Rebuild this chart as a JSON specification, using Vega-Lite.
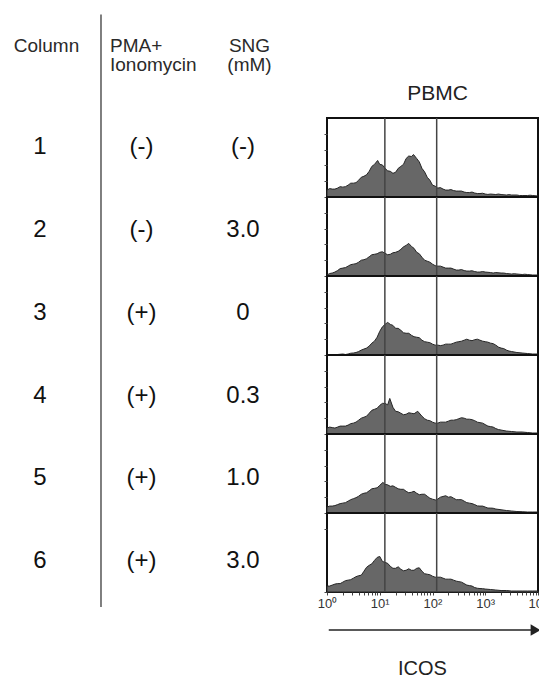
{
  "$schema": "https://vega.github.io/schema/vega-lite/v6.json",
  "autosize": {"type": "pad"},
  "padding": {"left": 0, "top": 13, "right": 0, "bottom": 0},
  "background": "white",
  "config": {
    "font": "Liberation Sans",
    "view": {"stroke": "#111111", "strokeWidth": 2}
  },
  "bounds": "flush",
  "spacing": 44,
  "datasets": {
    "table": [
      {"row": 1, "header": "Column", "value": "1"},
      {"row": 1, "header": "PMA+ Ionomycin", "value": "(-)"},
      {"row": 1, "header": "SNG (mM)", "value": "(-)"},
      {"row": 2, "header": "Column", "value": "2"},
      {"row": 2, "header": "PMA+ Ionomycin", "value": "(-)"},
      {"row": 2, "header": "SNG (mM)", "value": "3.0"},
      {"row": 3, "header": "Column", "value": "3"},
      {"row": 3, "header": "PMA+ Ionomycin", "value": "(+)"},
      {"row": 3, "header": "SNG (mM)", "value": "0"},
      {"row": 4, "header": "Column", "value": "4"},
      {"row": 4, "header": "PMA+ Ionomycin", "value": "(+)"},
      {"row": 4, "header": "SNG (mM)", "value": "0.3"},
      {"row": 5, "header": "Column", "value": "5"},
      {"row": 5, "header": "PMA+ Ionomycin", "value": "(+)"},
      {"row": 5, "header": "SNG (mM)", "value": "1.0"},
      {"row": 6, "header": "Column", "value": "6"},
      {"row": 6, "header": "PMA+ Ionomycin", "value": "(+)"},
      {"row": 6, "header": "SNG (mM)", "value": "3.0"}
    ],
    "hist": [
      {"row": 1, "gate": 12.5}, {"row": 1, "gate": 120},
      {"row": 2, "gate": 12.5}, {"row": 2, "gate": 120},
      {"row": 3, "gate": 12.5}, {"row": 3, "gate": 120},
      {"row": 4, "gate": 12.5}, {"row": 4, "gate": 120},
      {"row": 5, "gate": 12.5}, {"row": 5, "gate": 120},
      {"row": 6, "gate": 12.5}, {"row": 6, "gate": 120},

      {"row": 1, "icos": 1, "count": 7}, {"row": 1, "icos": 1.259, "count": 8}, {"row": 1, "icos": 1.585, "count": 9}, {"row": 1, "icos": 1.995, "count": 10},
      {"row": 1, "icos": 2.512, "count": 12}, {"row": 1, "icos": 3.162, "count": 14}, {"row": 1, "icos": 3.981, "count": 17}, {"row": 1, "icos": 5.012, "count": 21},
      {"row": 1, "icos": 6.31, "count": 26}, {"row": 1, "icos": 7.943, "count": 33}, {"row": 1, "icos": 9.12, "count": 37}, {"row": 1, "icos": 10, "count": 33},
      {"row": 1, "icos": 12.59, "count": 29}, {"row": 1, "icos": 15.85, "count": 26}, {"row": 1, "icos": 17.78, "count": 24}, {"row": 1, "icos": 19.95, "count": 25},
      {"row": 1, "icos": 25.12, "count": 31}, {"row": 1, "icos": 31.62, "count": 39}, {"row": 1, "icos": 39.81, "count": 41}, {"row": 1, "icos": 43.65, "count": 43},
      {"row": 1, "icos": 50.12, "count": 39}, {"row": 1, "icos": 63.1, "count": 29}, {"row": 1, "icos": 79.43, "count": 20}, {"row": 1, "icos": 100, "count": 12},
      {"row": 1, "icos": 125.9, "count": 9}, {"row": 1, "icos": 158.5, "count": 8}, {"row": 1, "icos": 199.5, "count": 7}, {"row": 1, "icos": 251.2, "count": 6.5},
      {"row": 1, "icos": 316.2, "count": 6}, {"row": 1, "icos": 398.1, "count": 5}, {"row": 1, "icos": 501.2, "count": 4.5}, {"row": 1, "icos": 631, "count": 4},
      {"row": 1, "icos": 794.3, "count": 3.5}, {"row": 1, "icos": 1000, "count": 3}, {"row": 1, "icos": 1259, "count": 3}, {"row": 1, "icos": 1585, "count": 2.5},
      {"row": 1, "icos": 1995, "count": 2.5}, {"row": 1, "icos": 2512, "count": 2}, {"row": 1, "icos": 3162, "count": 2}, {"row": 1, "icos": 3981, "count": 2},
      {"row": 1, "icos": 5012, "count": 1.5}, {"row": 1, "icos": 6310, "count": 1.5}, {"row": 1, "icos": 7943, "count": 1.5}, {"row": 1, "icos": 10000, "count": 1},
      {"row": 1, "icos": 1.122, "count": 8.5}, {"row": 1, "icos": 1.413, "count": 8}, {"row": 1, "icos": 1.778, "count": 10.5}, {"row": 1, "icos": 2.239, "count": 10.5},
      {"row": 1, "icos": 2.818, "count": 14}, {"row": 1, "icos": 3.548, "count": 14.5}, {"row": 1, "icos": 4.467, "count": 20}, {"row": 1, "icos": 5.623, "count": 22.5},
      {"row": 1, "icos": 7.079, "count": 31}, {"row": 1, "icos": 11.22, "count": 32.5}, {"row": 1, "icos": 14.13, "count": 26.5}, {"row": 1, "icos": 22.39, "count": 29},
      {"row": 1, "icos": 28.18, "count": 33}, {"row": 1, "icos": 35.48, "count": 41.5}, {"row": 1, "icos": 56.23, "count": 35.5}, {"row": 1, "icos": 70.79, "count": 25.5},
      {"row": 1, "icos": 89.13, "count": 17}, {"row": 1, "icos": 112.2, "count": 11}, {"row": 1, "icos": 141.3, "count": 9.5}, {"row": 1, "icos": 177.8, "count": 7},
      {"row": 1, "icos": 223.9, "count": 7.5}, {"row": 1, "icos": 281.8, "count": 6}, {"row": 1, "icos": 354.8, "count": 6}, {"row": 1, "icos": 446.7, "count": 4.5},
      {"row": 1, "icos": 562.3, "count": 5}, {"row": 1, "icos": 707.9, "count": 3.5}, {"row": 1, "icos": 891.3, "count": 3.8}, {"row": 1, "icos": 1122, "count": 2.6},
      {"row": 1, "icos": 1778, "count": 3}, {"row": 1, "icos": 2818, "count": 2.4}, {"row": 1, "icos": 4467, "count": 1.5}, {"row": 1, "icos": 7079, "count": 1.8},

      {"row": 2, "icos": 1, "count": 1}, {"row": 2, "icos": 1.259, "count": 3}, {"row": 2, "icos": 1.585, "count": 5.5}, {"row": 2, "icos": 1.995, "count": 8},
      {"row": 2, "icos": 2.512, "count": 10}, {"row": 2, "icos": 3.162, "count": 12}, {"row": 2, "icos": 3.981, "count": 14}, {"row": 2, "icos": 5.012, "count": 16.5},
      {"row": 2, "icos": 6.31, "count": 19.5}, {"row": 2, "icos": 7.943, "count": 22}, {"row": 2, "icos": 10, "count": 24}, {"row": 2, "icos": 12.59, "count": 23},
      {"row": 2, "icos": 15.85, "count": 22}, {"row": 2, "icos": 19.95, "count": 24}, {"row": 2, "icos": 25.12, "count": 27}, {"row": 2, "icos": 31.62, "count": 31},
      {"row": 2, "icos": 35.48, "count": 33}, {"row": 2, "icos": 39.81, "count": 30}, {"row": 2, "icos": 50.12, "count": 24}, {"row": 2, "icos": 63.1, "count": 19},
      {"row": 2, "icos": 79.43, "count": 15}, {"row": 2, "icos": 100, "count": 12}, {"row": 2, "icos": 125.9, "count": 10}, {"row": 2, "icos": 158.5, "count": 9},
      {"row": 2, "icos": 199.5, "count": 8}, {"row": 2, "icos": 251.2, "count": 7}, {"row": 2, "icos": 316.2, "count": 6}, {"row": 2, "icos": 398.1, "count": 5.5},
      {"row": 2, "icos": 501.2, "count": 5}, {"row": 2, "icos": 631, "count": 4.5}, {"row": 2, "icos": 794.3, "count": 4}, {"row": 2, "icos": 1000, "count": 4},
      {"row": 2, "icos": 1259, "count": 3.5}, {"row": 2, "icos": 1585, "count": 3.5}, {"row": 2, "icos": 1995, "count": 3}, {"row": 2, "icos": 2512, "count": 2.5},
      {"row": 2, "icos": 3162, "count": 2}, {"row": 2, "icos": 3981, "count": 2}, {"row": 2, "icos": 5012, "count": 1.5}, {"row": 2, "icos": 6310, "count": 1.5},
      {"row": 2, "icos": 7943, "count": 1}, {"row": 2, "icos": 10000, "count": 1},
      {"row": 2, "icos": 1.122, "count": 2.5}, {"row": 2, "icos": 1.413, "count": 4}, {"row": 2, "icos": 1.778, "count": 7.5}, {"row": 2, "icos": 2.239, "count": 8.5},
      {"row": 2, "icos": 2.818, "count": 11.5}, {"row": 2, "icos": 3.548, "count": 12.5}, {"row": 2, "icos": 4.467, "count": 16}, {"row": 2, "icos": 5.623, "count": 17.5},
      {"row": 2, "icos": 7.079, "count": 21.5}, {"row": 2, "icos": 8.913, "count": 22.5}, {"row": 2, "icos": 11.22, "count": 24.5}, {"row": 2, "icos": 14.13, "count": 21.5},
      {"row": 2, "icos": 17.78, "count": 23.5}, {"row": 2, "icos": 22.39, "count": 25}, {"row": 2, "icos": 28.18, "count": 29.5}, {"row": 2, "icos": 44.67, "count": 28},
      {"row": 2, "icos": 56.23, "count": 22.5}, {"row": 2, "icos": 70.79, "count": 16}, {"row": 2, "icos": 89.13, "count": 14}, {"row": 2, "icos": 112.2, "count": 10.5},
      {"row": 2, "icos": 141.3, "count": 10}, {"row": 2, "icos": 177.8, "count": 8}, {"row": 2, "icos": 223.9, "count": 8}, {"row": 2, "icos": 281.8, "count": 6},
      {"row": 2, "icos": 354.8, "count": 6.5}, {"row": 2, "icos": 446.7, "count": 5}, {"row": 2, "icos": 562.3, "count": 5.3}, {"row": 2, "icos": 707.9, "count": 4},
      {"row": 2, "icos": 891.3, "count": 4.5}, {"row": 2, "icos": 1413, "count": 3}, {"row": 2, "icos": 2239, "count": 3}, {"row": 2, "icos": 3548, "count": 2.3},
      {"row": 2, "icos": 5623, "count": 1.8},

      {"row": 3, "icos": 1, "count": 0.5}, {"row": 3, "icos": 1.259, "count": 0.5}, {"row": 3, "icos": 1.585, "count": 0.5}, {"row": 3, "icos": 1.995, "count": 1},
      {"row": 3, "icos": 2.512, "count": 1}, {"row": 3, "icos": 3.162, "count": 2}, {"row": 3, "icos": 3.981, "count": 3.5}, {"row": 3, "icos": 5.012, "count": 6},
      {"row": 3, "icos": 6.31, "count": 9}, {"row": 3, "icos": 7.943, "count": 14}, {"row": 3, "icos": 10, "count": 24}, {"row": 3, "icos": 12.59, "count": 31},
      {"row": 3, "icos": 14.13, "count": 33}, {"row": 3, "icos": 15.85, "count": 31}, {"row": 3, "icos": 19.95, "count": 27}, {"row": 3, "icos": 25.12, "count": 25},
      {"row": 3, "icos": 31.62, "count": 22}, {"row": 3, "icos": 39.81, "count": 20}, {"row": 3, "icos": 50.12, "count": 18}, {"row": 3, "icos": 63.1, "count": 15},
      {"row": 3, "icos": 79.43, "count": 13}, {"row": 3, "icos": 100, "count": 11}, {"row": 3, "icos": 125.9, "count": 10}, {"row": 3, "icos": 158.5, "count": 10},
      {"row": 3, "icos": 199.5, "count": 11}, {"row": 3, "icos": 251.2, "count": 12}, {"row": 3, "icos": 316.2, "count": 13.5}, {"row": 3, "icos": 398.1, "count": 15},
      {"row": 3, "icos": 501.2, "count": 15}, {"row": 3, "icos": 631, "count": 15.5}, {"row": 3, "icos": 794.3, "count": 15}, {"row": 3, "icos": 1000, "count": 13.5},
      {"row": 3, "icos": 1259, "count": 12}, {"row": 3, "icos": 1585, "count": 10}, {"row": 3, "icos": 1995, "count": 7}, {"row": 3, "icos": 2512, "count": 5},
      {"row": 3, "icos": 3162, "count": 3.5}, {"row": 3, "icos": 3981, "count": 2.5}, {"row": 3, "icos": 5012, "count": 2}, {"row": 3, "icos": 6310, "count": 1.5},
      {"row": 3, "icos": 7943, "count": 1}, {"row": 3, "icos": 10000, "count": 1},
      {"row": 3, "icos": 2.239, "count": 0.5}, {"row": 3, "icos": 2.818, "count": 1.8}, {"row": 3, "icos": 3.548, "count": 2.5}, {"row": 3, "icos": 4.467, "count": 5},
      {"row": 3, "icos": 5.623, "count": 7}, {"row": 3, "icos": 7.079, "count": 12}, {"row": 3, "icos": 8.913, "count": 18}, {"row": 3, "icos": 11.22, "count": 28.5},
      {"row": 3, "icos": 17.78, "count": 30}, {"row": 3, "icos": 22.39, "count": 27}, {"row": 3, "icos": 28.18, "count": 22.5}, {"row": 3, "icos": 35.48, "count": 22},
      {"row": 3, "icos": 44.67, "count": 18.5}, {"row": 3, "icos": 56.23, "count": 17.5}, {"row": 3, "icos": 70.79, "count": 13.5}, {"row": 3, "icos": 89.13, "count": 12.5},
      {"row": 3, "icos": 112.2, "count": 10}, {"row": 3, "icos": 141.3, "count": 9.5}, {"row": 3, "icos": 177.8, "count": 11}, {"row": 3, "icos": 223.9, "count": 11},
      {"row": 3, "icos": 281.8, "count": 13}, {"row": 3, "icos": 354.8, "count": 14}, {"row": 3, "icos": 446.7, "count": 16}, {"row": 3, "icos": 562.3, "count": 14.5},
      {"row": 3, "icos": 707.9, "count": 16}, {"row": 3, "icos": 891.3, "count": 14}, {"row": 3, "icos": 1122, "count": 13}, {"row": 3, "icos": 1413, "count": 11.5},
      {"row": 3, "icos": 1778, "count": 8}, {"row": 3, "icos": 2239, "count": 6.5}, {"row": 3, "icos": 2818, "count": 4},

      {"row": 4, "icos": 1, "count": 6}, {"row": 4, "icos": 1.259, "count": 6.5}, {"row": 4, "icos": 1.585, "count": 7}, {"row": 4, "icos": 1.995, "count": 8},
      {"row": 4, "icos": 2.512, "count": 9}, {"row": 4, "icos": 3.162, "count": 11}, {"row": 4, "icos": 3.981, "count": 14}, {"row": 4, "icos": 5.012, "count": 17},
      {"row": 4, "icos": 6.31, "count": 21}, {"row": 4, "icos": 7.943, "count": 25}, {"row": 4, "icos": 10, "count": 29}, {"row": 4, "icos": 12.59, "count": 31},
      {"row": 4, "icos": 15.49, "count": 36}, {"row": 4, "icos": 17.78, "count": 27}, {"row": 4, "icos": 19.95, "count": 23}, {"row": 4, "icos": 25.12, "count": 21},
      {"row": 4, "icos": 31.62, "count": 20}, {"row": 4, "icos": 39.81, "count": 21}, {"row": 4, "icos": 52.48, "count": 23}, {"row": 4, "icos": 63.1, "count": 18},
      {"row": 4, "icos": 79.43, "count": 14}, {"row": 4, "icos": 100, "count": 12}, {"row": 4, "icos": 125.9, "count": 11}, {"row": 4, "icos": 158.5, "count": 12},
      {"row": 4, "icos": 199.5, "count": 13}, {"row": 4, "icos": 251.2, "count": 14}, {"row": 4, "icos": 316.2, "count": 15.5}, {"row": 4, "icos": 398.1, "count": 16},
      {"row": 4, "icos": 501.2, "count": 15}, {"row": 4, "icos": 631, "count": 13.5}, {"row": 4, "icos": 794.3, "count": 11.5}, {"row": 4, "icos": 1000, "count": 9.5},
      {"row": 4, "icos": 1259, "count": 7.5}, {"row": 4, "icos": 1585, "count": 5.5}, {"row": 4, "icos": 1995, "count": 4}, {"row": 4, "icos": 2512, "count": 3},
      {"row": 4, "icos": 3162, "count": 2.5}, {"row": 4, "icos": 3981, "count": 2}, {"row": 4, "icos": 5012, "count": 2}, {"row": 4, "icos": 6310, "count": 1.5},
      {"row": 4, "icos": 7943, "count": 1}, {"row": 4, "icos": 10000, "count": 1},
      {"row": 4, "icos": 1.122, "count": 7}, {"row": 4, "icos": 1.413, "count": 6}, {"row": 4, "icos": 1.778, "count": 8}, {"row": 4, "icos": 2.239, "count": 8},
      {"row": 4, "icos": 2.818, "count": 10.5}, {"row": 4, "icos": 3.548, "count": 12}, {"row": 4, "icos": 4.467, "count": 16}, {"row": 4, "icos": 5.623, "count": 18},
      {"row": 4, "icos": 7.079, "count": 24}, {"row": 4, "icos": 8.913, "count": 26}, {"row": 4, "icos": 11.22, "count": 31}, {"row": 4, "icos": 14.13, "count": 29.5},
      {"row": 4, "icos": 22.39, "count": 22.5}, {"row": 4, "icos": 28.18, "count": 19.5}, {"row": 4, "icos": 35.48, "count": 21.5}, {"row": 4, "icos": 44.67, "count": 20.5},
      {"row": 4, "icos": 70.79, "count": 15.5}, {"row": 4, "icos": 89.13, "count": 13.5}, {"row": 4, "icos": 112.2, "count": 11}, {"row": 4, "icos": 141.3, "count": 12},
      {"row": 4, "icos": 177.8, "count": 12}, {"row": 4, "icos": 223.9, "count": 14}, {"row": 4, "icos": 281.8, "count": 14.5}, {"row": 4, "icos": 354.8, "count": 16.5},
      {"row": 4, "icos": 446.7, "count": 15}, {"row": 4, "icos": 562.3, "count": 14.5}, {"row": 4, "icos": 707.9, "count": 12}, {"row": 4, "icos": 891.3, "count": 11},
      {"row": 4, "icos": 1122, "count": 8}, {"row": 4, "icos": 1413, "count": 7}, {"row": 4, "icos": 1778, "count": 4.5},

      {"row": 5, "icos": 1, "count": 6}, {"row": 5, "icos": 1.259, "count": 7}, {"row": 5, "icos": 1.585, "count": 8.5}, {"row": 5, "icos": 1.995, "count": 10},
      {"row": 5, "icos": 2.512, "count": 12}, {"row": 5, "icos": 3.162, "count": 14.5}, {"row": 5, "icos": 3.981, "count": 17}, {"row": 5, "icos": 5.012, "count": 20},
      {"row": 5, "icos": 6.31, "count": 22.5}, {"row": 5, "icos": 7.943, "count": 25}, {"row": 5, "icos": 10, "count": 28}, {"row": 5, "icos": 11.48, "count": 31},
      {"row": 5, "icos": 12.59, "count": 29}, {"row": 5, "icos": 15.85, "count": 27}, {"row": 5, "icos": 19.95, "count": 26}, {"row": 5, "icos": 25.12, "count": 24},
      {"row": 5, "icos": 31.62, "count": 22}, {"row": 5, "icos": 39.81, "count": 21}, {"row": 5, "icos": 50.12, "count": 20}, {"row": 5, "icos": 63.1, "count": 19},
      {"row": 5, "icos": 79.43, "count": 17}, {"row": 5, "icos": 100, "count": 14}, {"row": 5, "icos": 117.5, "count": 13}, {"row": 5, "icos": 141.3, "count": 16},
      {"row": 5, "icos": 177.8, "count": 17.5}, {"row": 5, "icos": 199.5, "count": 16}, {"row": 5, "icos": 251.2, "count": 15}, {"row": 5, "icos": 316.2, "count": 13.5},
      {"row": 5, "icos": 398.1, "count": 12}, {"row": 5, "icos": 501.2, "count": 10}, {"row": 5, "icos": 631, "count": 8.5}, {"row": 5, "icos": 794.3, "count": 7},
      {"row": 5, "icos": 1000, "count": 6}, {"row": 5, "icos": 1259, "count": 5}, {"row": 5, "icos": 1585, "count": 4}, {"row": 5, "icos": 1995, "count": 3.3},
      {"row": 5, "icos": 2512, "count": 2.5}, {"row": 5, "icos": 3162, "count": 2}, {"row": 5, "icos": 3981, "count": 1.5}, {"row": 5, "icos": 5012, "count": 1.3},
      {"row": 5, "icos": 6310, "count": 1}, {"row": 5, "icos": 7943, "count": 1}, {"row": 5, "icos": 10000, "count": 1},
      {"row": 5, "icos": 1.122, "count": 7}, {"row": 5, "icos": 1.413, "count": 7.5}, {"row": 5, "icos": 1.778, "count": 9.5}, {"row": 5, "icos": 2.239, "count": 10.5},
      {"row": 5, "icos": 2.818, "count": 13.5}, {"row": 5, "icos": 3.548, "count": 15.5}, {"row": 5, "icos": 4.467, "count": 19}, {"row": 5, "icos": 5.623, "count": 20.5},
      {"row": 5, "icos": 7.079, "count": 24.5}, {"row": 5, "icos": 8.913, "count": 25.5}, {"row": 5, "icos": 14.13, "count": 28.5}, {"row": 5, "icos": 17.78, "count": 27.5},
      {"row": 5, "icos": 22.39, "count": 24.5}, {"row": 5, "icos": 28.18, "count": 24}, {"row": 5, "icos": 35.48, "count": 20.5}, {"row": 5, "icos": 44.67, "count": 22},
      {"row": 5, "icos": 56.23, "count": 18.5}, {"row": 5, "icos": 70.79, "count": 19}, {"row": 5, "icos": 89.13, "count": 15}, {"row": 5, "icos": 223.9, "count": 16.5},
      {"row": 5, "icos": 281.8, "count": 13.5}, {"row": 5, "icos": 354.8, "count": 13.5}, {"row": 5, "icos": 446.7, "count": 10.5}, {"row": 5, "icos": 562.3, "count": 9.5},
      {"row": 5, "icos": 707.9, "count": 7.2}, {"row": 5, "icos": 891.3, "count": 7}, {"row": 5, "icos": 1122, "count": 5}, {"row": 5, "icos": 1413, "count": 4.8},

      {"row": 6, "icos": 1, "count": 6}, {"row": 6, "icos": 1.259, "count": 7}, {"row": 6, "icos": 1.585, "count": 8.5}, {"row": 6, "icos": 1.995, "count": 10},
      {"row": 6, "icos": 2.512, "count": 12}, {"row": 6, "icos": 3.162, "count": 14}, {"row": 6, "icos": 3.981, "count": 16.5}, {"row": 6, "icos": 5.012, "count": 21},
      {"row": 6, "icos": 6.31, "count": 27}, {"row": 6, "icos": 7.943, "count": 32}, {"row": 6, "icos": 10, "count": 36}, {"row": 6, "icos": 12.59, "count": 30},
      {"row": 6, "icos": 15.85, "count": 26}, {"row": 6, "icos": 19.95, "count": 24}, {"row": 6, "icos": 25.12, "count": 23}, {"row": 6, "icos": 31.62, "count": 22},
      {"row": 6, "icos": 39.81, "count": 22}, {"row": 6, "icos": 50.12, "count": 24}, {"row": 6, "icos": 63.1, "count": 21}, {"row": 6, "icos": 79.43, "count": 18},
      {"row": 6, "icos": 100, "count": 16}, {"row": 6, "icos": 125.9, "count": 15}, {"row": 6, "icos": 158.5, "count": 14}, {"row": 6, "icos": 199.5, "count": 13},
      {"row": 6, "icos": 251.2, "count": 12}, {"row": 6, "icos": 316.2, "count": 10.5}, {"row": 6, "icos": 398.1, "count": 8.5}, {"row": 6, "icos": 501.2, "count": 6.5},
      {"row": 6, "icos": 631, "count": 4.5}, {"row": 6, "icos": 794.3, "count": 3.5}, {"row": 6, "icos": 1000, "count": 3}, {"row": 6, "icos": 1259, "count": 2.5},
      {"row": 6, "icos": 1585, "count": 2}, {"row": 6, "icos": 1995, "count": 1.5}, {"row": 6, "icos": 2512, "count": 1.5}, {"row": 6, "icos": 3162, "count": 1},
      {"row": 6, "icos": 3981, "count": 1}, {"row": 6, "icos": 5012, "count": 1}, {"row": 6, "icos": 6310, "count": 1}, {"row": 6, "icos": 7943, "count": 1},
      {"row": 6, "icos": 10000, "count": 1},
      {"row": 6, "icos": 1.122, "count": 6}, {"row": 6, "icos": 1.413, "count": 8}, {"row": 6, "icos": 1.778, "count": 8.5}, {"row": 6, "icos": 2.239, "count": 11.5},
      {"row": 6, "icos": 2.818, "count": 12.5}, {"row": 6, "icos": 3.548, "count": 15.5}, {"row": 6, "icos": 4.467, "count": 17}, {"row": 6, "icos": 5.623, "count": 25},
      {"row": 6, "icos": 7.079, "count": 28.5}, {"row": 6, "icos": 8.913, "count": 35}, {"row": 6, "icos": 11.22, "count": 31}, {"row": 6, "icos": 14.13, "count": 29},
      {"row": 6, "icos": 17.78, "count": 24}, {"row": 6, "icos": 22.39, "count": 25.5}, {"row": 6, "icos": 28.18, "count": 21.5}, {"row": 6, "icos": 35.48, "count": 23.5},
      {"row": 6, "icos": 44.67, "count": 22}, {"row": 6, "icos": 56.23, "count": 24.5}, {"row": 6, "icos": 70.79, "count": 18.5}, {"row": 6, "icos": 89.13, "count": 17.5},
      {"row": 6, "icos": 112.2, "count": 15}, {"row": 6, "icos": 141.3, "count": 15}, {"row": 6, "icos": 177.8, "count": 13}, {"row": 6, "icos": 223.9, "count": 13},
      {"row": 6, "icos": 281.8, "count": 11}, {"row": 6, "icos": 354.8, "count": 10}, {"row": 6, "icos": 446.7, "count": 7}, {"row": 6, "icos": 562.3, "count": 6},
      {"row": 6, "icos": 707.9, "count": 3.8}, {"row": 6, "icos": 891.3, "count": 3.4}
    ]
  },
  "hconcat": [
    {
      "width": 283,
      "height": 474,
      "view": {"stroke": null},
      "data": {"name": "table"},
      "encoding": {
        "x": {
          "field": "header",
          "type": "nominal",
          "scale": {"type": "point", "padding": 0.394, "domain": ["Column", "PMA+ Ionomycin", "SNG (mM)"]},
          "axis": {
            "orient": "top",
            "title": null,
            "ticks": false,
            "domain": false,
            "labelAngle": 0,
            "labelExpr": "split(datum.label, ' ')",
            "labelFontSize": 19,
            "labelLineHeight": 19,
            "labelColor": "#2a2a2a",
            "labelBaseline": "alphabetic",
            "labelPadding": 0,
            "offset": 67,
            "labelAlign": {"condition": {"test": "datum.value == 'PMA+ Ionomycin'", "value": "left"}, "value": "center"},
            "labelOffset": {"condition": {"test": "datum.value == 'PMA+ Ionomycin'", "value": -32}, "value": 6}
          }
        },
        "y": {
          "field": "row",
          "type": "quantitative",
          "scale": {"domain": [0.645, 6.373], "reverse": true, "nice": false, "zero": false},
          "axis": null
        }
      },
      "layer": [
        {
          "mark": {"type": "text", "fontSize": 24, "color": "#111111", "baseline": "middle", "align": "center"},
          "encoding": {"text": {"field": "value", "type": "nominal"}}
        },
        {
          "transform": [{"filter": "datum.row == 1 && datum.header == 'Column'"}],
          "mark": {"type": "rule", "color": "#555555", "strokeWidth": 1.5, "xOffset": 61},
          "encoding": {
            "y": {"datum": -0.606, "type": "quantitative"},
            "y2": {"datum": 6.554}
          }
        }
      ]
    },
    {
      "bounds": "flush",
      "spacing": 0,
      "data": {"name": "hist"},
      "vconcat": [
        {
          "width": 211, "height": 79,
          "title": {"text": "PBMC", "fontSize": 21, "fontWeight": "normal", "color": "#222222", "anchor": "middle", "baseline": "alphabetic", "offset": -4, "dx": 5},
          "transform": [{"filter": "datum.row == 1"}],
          "layer": [
            {
              "transform": [{"filter": "isValid(datum.icos)"}],
              "mark": {"type": "area", "fill": "#676767", "stroke": "#262626", "strokeWidth": 1},
              "encoding": {
                "x": {"field": "icos", "type": "quantitative", "scale": {"type": "log", "domain": [1, 10000]}, "axis": null},
                "y": {"field": "count", "type": "quantitative", "scale": {"domain": [0, 80]}, "axis": {"title": null, "labels": false, "domain": false, "grid": false, "values": [0, 16, 32, 48, 64], "tickSize": 3, "tickColor": "#444444"}}
              }
            },
            {
              "transform": [{"filter": "isValid(datum.gate)"}],
              "mark": {"type": "rule", "color": "#444444", "strokeWidth": 1.5},
              "encoding": {"x": {"field": "gate", "type": "quantitative"}}
            }
          ]
        },
        {
          "width": 211, "height": 79,
          "transform": [{"filter": "datum.row == 2"}],
          "layer": [
            {
              "transform": [{"filter": "isValid(datum.icos)"}],
              "mark": {"type": "area", "fill": "#676767", "stroke": "#262626", "strokeWidth": 1},
              "encoding": {
                "x": {"field": "icos", "type": "quantitative", "scale": {"type": "log", "domain": [1, 10000]}, "axis": null},
                "y": {"field": "count", "type": "quantitative", "scale": {"domain": [0, 80]}, "axis": {"title": null, "labels": false, "domain": false, "grid": false, "values": [0, 16, 32, 48, 64], "tickSize": 3, "tickColor": "#444444"}}
              }
            },
            {
              "transform": [{"filter": "isValid(datum.gate)"}],
              "mark": {"type": "rule", "color": "#444444", "strokeWidth": 1.5},
              "encoding": {"x": {"field": "gate", "type": "quantitative"}}
            }
          ]
        },
        {
          "width": 211, "height": 79,
          "transform": [{"filter": "datum.row == 3"}],
          "layer": [
            {
              "transform": [{"filter": "isValid(datum.icos)"}],
              "mark": {"type": "area", "fill": "#676767", "stroke": "#262626", "strokeWidth": 1},
              "encoding": {
                "x": {"field": "icos", "type": "quantitative", "scale": {"type": "log", "domain": [1, 10000]}, "axis": null},
                "y": {"field": "count", "type": "quantitative", "scale": {"domain": [0, 80]}, "axis": {"title": null, "labels": false, "domain": false, "grid": false, "values": [0, 16, 32, 48, 64], "tickSize": 3, "tickColor": "#444444"}}
              }
            },
            {
              "transform": [{"filter": "isValid(datum.gate)"}],
              "mark": {"type": "rule", "color": "#444444", "strokeWidth": 1.5},
              "encoding": {"x": {"field": "gate", "type": "quantitative"}}
            }
          ]
        },
        {
          "width": 211, "height": 79,
          "transform": [{"filter": "datum.row == 4"}],
          "layer": [
            {
              "transform": [{"filter": "isValid(datum.icos)"}],
              "mark": {"type": "area", "fill": "#676767", "stroke": "#262626", "strokeWidth": 1},
              "encoding": {
                "x": {"field": "icos", "type": "quantitative", "scale": {"type": "log", "domain": [1, 10000]}, "axis": null},
                "y": {"field": "count", "type": "quantitative", "scale": {"domain": [0, 80]}, "axis": {"title": null, "labels": false, "domain": false, "grid": false, "values": [0, 16, 32, 48, 64], "tickSize": 3, "tickColor": "#444444"}}
              }
            },
            {
              "transform": [{"filter": "isValid(datum.gate)"}],
              "mark": {"type": "rule", "color": "#444444", "strokeWidth": 1.5},
              "encoding": {"x": {"field": "gate", "type": "quantitative"}}
            }
          ]
        },
        {
          "width": 211, "height": 79,
          "transform": [{"filter": "datum.row == 5"}],
          "layer": [
            {
              "transform": [{"filter": "isValid(datum.icos)"}],
              "mark": {"type": "area", "fill": "#676767", "stroke": "#262626", "strokeWidth": 1},
              "encoding": {
                "x": {"field": "icos", "type": "quantitative", "scale": {"type": "log", "domain": [1, 10000]}, "axis": null},
                "y": {"field": "count", "type": "quantitative", "scale": {"domain": [0, 80]}, "axis": {"title": null, "labels": false, "domain": false, "grid": false, "values": [0, 16, 32, 48, 64], "tickSize": 3, "tickColor": "#444444"}}
              }
            },
            {
              "transform": [{"filter": "isValid(datum.gate)"}],
              "mark": {"type": "rule", "color": "#444444", "strokeWidth": 1.5},
              "encoding": {"x": {"field": "gate", "type": "quantitative"}}
            }
          ]
        },
        {
          "width": 211, "height": 79,
          "transform": [{"filter": "datum.row == 6"}],
          "layer": [
            {
              "transform": [{"filter": "isValid(datum.icos)"}],
              "mark": {"type": "area", "fill": "#676767", "stroke": "#262626", "strokeWidth": 1},
              "encoding": {
                "x": {
                  "field": "icos",
                  "type": "quantitative",
                  "scale": {"type": "log", "domain": [1, 10000]},
                  "axis": {
                    "title": "ICOS",
                    "titleFontSize": 20,
                    "titleFontWeight": "normal",
                    "titleColor": "#222222",
                    "titleBaseline": "alphabetic",
                    "titleY": 82,
                    "titleX": 95,
                    "grid": false,
                    "domain": false,
                    "values": [1, 2, 3, 4, 5, 6, 7, 8, 9, 10, 20, 30, 40, 50, 60, 70, 80, 90, 100, 200, 300, 400, 500, 600, 700, 800, 900, 1000, 2000, 3000, 4000, 5000, 6000, 7000, 8000, 9000, 10000],
                    "labelExpr": "datum.value == 1 ? '10⁰' : datum.value == 10 ? '10¹' : datum.value == 100 ? '10²' : datum.value == 1000 ? '10³' : datum.value == 10000 ? '10⁴' : ''",
                    "labelFontSize": 13,
                    "labelColor": "#333333",
                    "labelFlush": false,
                    "labelOverlap": false,
                    "labelPadding": 2,
                    "tickSize": 3,
                    "tickColor": "#444444"
                  }
                },
                "y": {"field": "count", "type": "quantitative", "scale": {"domain": [0, 80]}, "axis": {"title": null, "labels": false, "domain": false, "grid": false, "values": [0, 16, 32, 48, 64], "tickSize": 3, "tickColor": "#444444"}}
              }
            },
            {
              "transform": [{"filter": "isValid(datum.gate)"}],
              "mark": {"type": "rule", "color": "#444444", "strokeWidth": 1.5},
              "encoding": {"x": {"field": "gate", "type": "quantitative"}}
            },
            {
              "transform": [{"filter": "datum.icos == 1"}],
              "mark": {"type": "rule", "color": "#222222", "strokeWidth": 1.5},
              "encoding": {
                "x": {"datum": 1.08, "type": "quantitative"},
                "x2": {"datum": 9000},
                "y": {"datum": -38.5, "type": "quantitative"}
              }
            },
            {
              "transform": [{"filter": "datum.icos == 1"}],
              "mark": {"type": "point", "shape": "triangle-right", "filled": true, "color": "#222222", "size": 130, "opacity": 1},
              "encoding": {
                "x": {"datum": 9000, "type": "quantitative"},
                "y": {"datum": -38.5, "type": "quantitative"}
              }
            }
          ]
        }
      ]
    }
  ]
}
